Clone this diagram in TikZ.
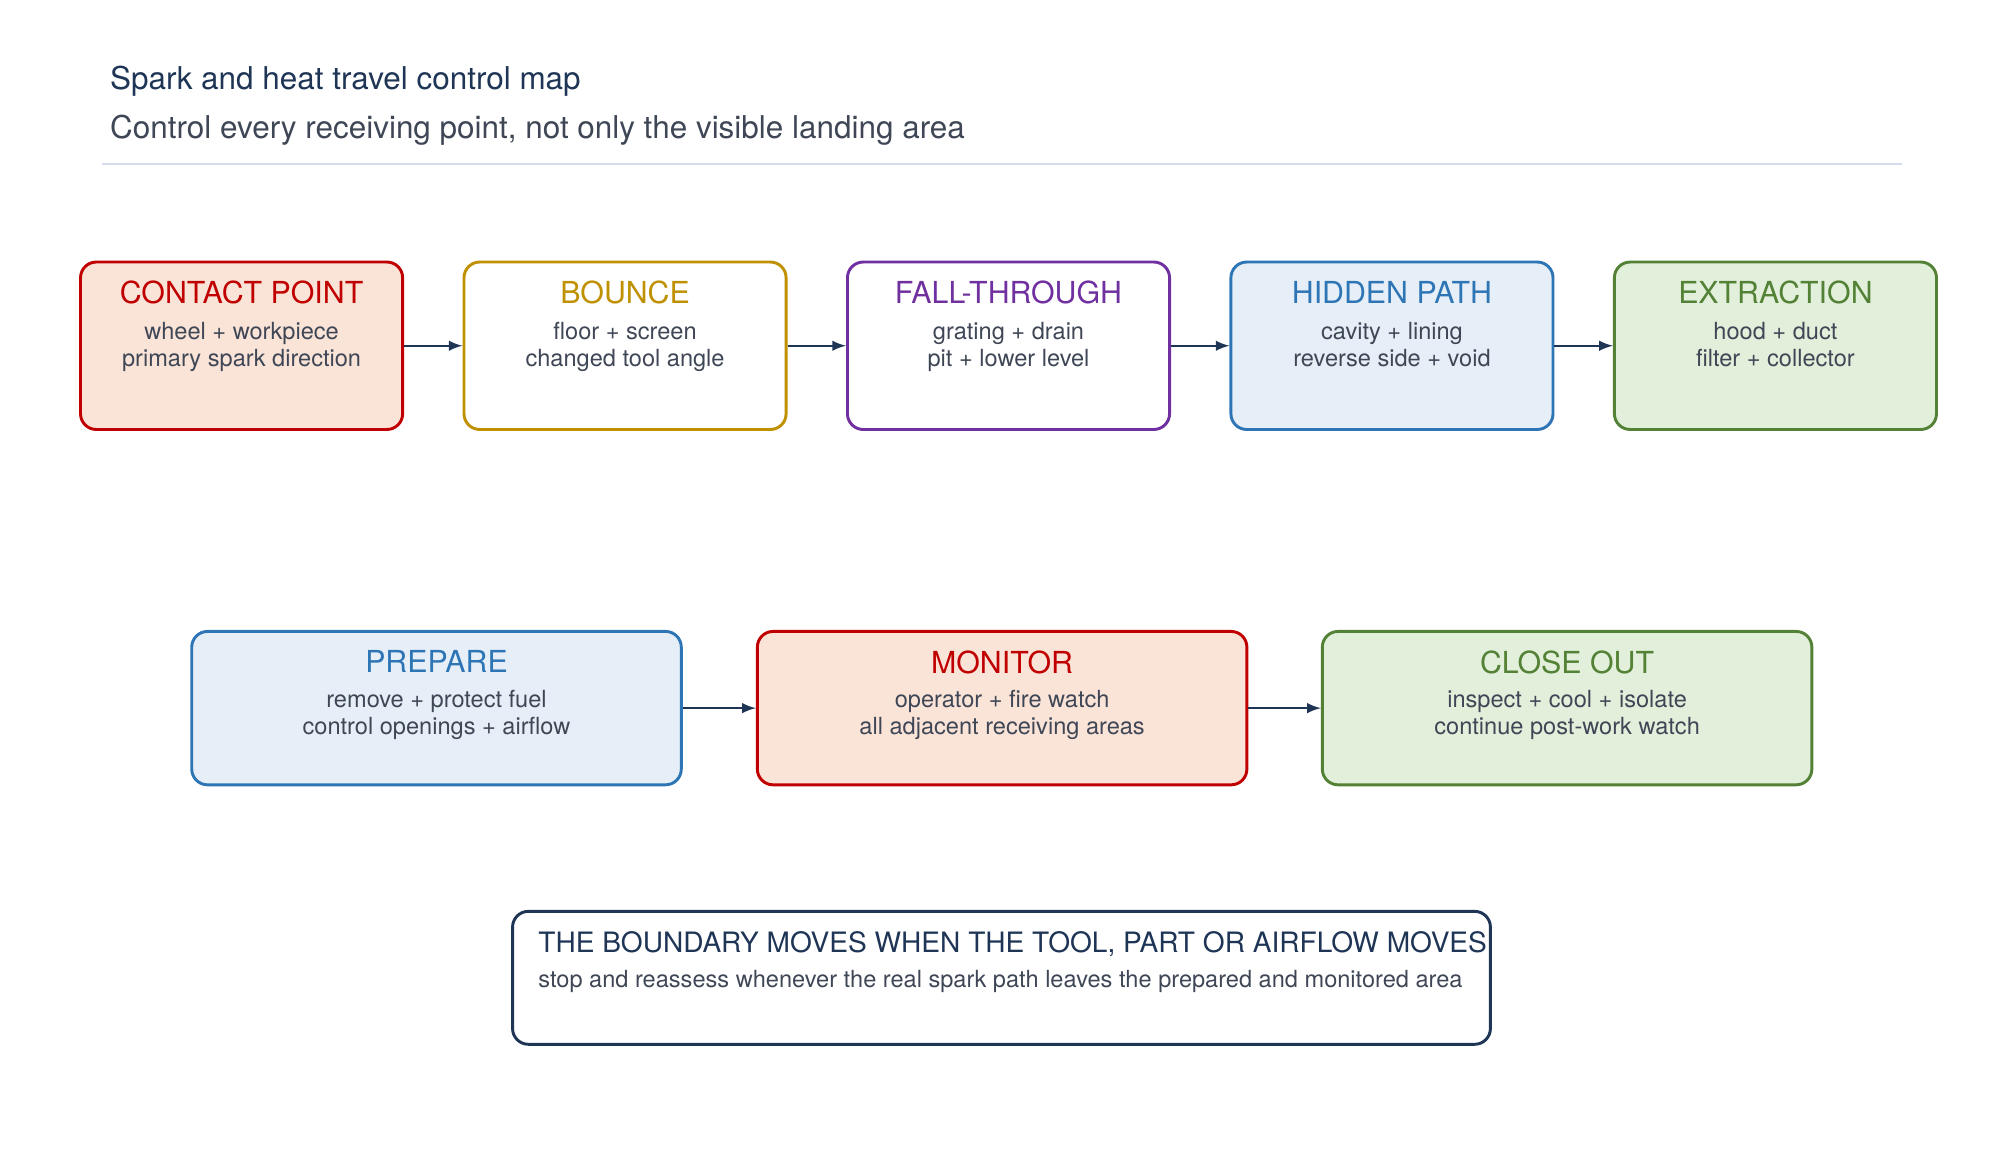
\documentclass[tikz,border=0pt]{standalone}
\usepackage{fontspec}
\setmainfont{TeX Gyre Heros}
\usetikzlibrary{positioning}
\definecolor{navy}{HTML}{1F3556}
\definecolor{textgray}{HTML}{3F4756}
\definecolor{rulecol}{HTML}{D6DCF0}
\definecolor{redc}{HTML}{C00000}
\definecolor{redf}{HTML}{FAE3D7}
\definecolor{goldc}{HTML}{BF9000}
\definecolor{purc}{HTML}{7030A0}
\definecolor{bluec}{HTML}{2E75B6}
\definecolor{bluef}{HTML}{E6EFF7}
\definecolor{grnc}{HTML}{538135}
\definecolor{grnf}{HTML}{E2EFDA}
\tikzset{
  box/.style={draw=#1, line width=1.3pt, rounded corners=7pt, minimum width=5.04cm, minimum height=2.62cm},
  wbox/.style={box=#1, minimum width=7.66cm, minimum height=2.4cm},
  head/.style={text=#1, font=\fontsize{13.5}{16}\selectfont},
  body/.style={text=textgray, align=center, font=\fontsize{10.5}{12}\selectfont},
  flow/.style={-latex, navy, line width=1.1pt}
}
\begin{document}
\begin{tikzpicture}
\useasboundingbox (0,0) rectangle (31.2,-18.16);

\node[anchor=base west, text=navy, font=\fontsize{14}{16}\selectfont] (title) at (1.6,-1.4) {Spark and heat travel control map};
\node[anchor=base west, text=textgray, font=\fontsize{14}{16}\selectfont] (sub) at (1.6,-2.16) {Control every receiving point, not only the visible landing area};
\draw[rulecol, line width=0.8pt] (1.6,-2.56) -- (29.76,-2.56);

% row 1
\node[box=redc, fill=redf] (contact) at (3.78,-5.41) {};
\node[box=goldc, fill=white] (bounce) at (9.78,-5.41) {};
\node[box=purc, fill=white] (fall) at (15.78,-5.41) {};
\node[box=bluec, fill=bluef] (hidden) at (21.78,-5.41) {};
\node[box=grnc, fill=grnf] (extract) at (27.78,-5.41) {};

\node[head=redc, below=0.2cm of contact.north] {CONTACT POINT};
\node[body, below=0.84cm of contact.north] {wheel + workpiece\\primary spark direction};
\node[head=goldc, below=0.2cm of bounce.north] {BOUNCE};
\node[body, below=0.84cm of bounce.north] {floor + screen\\changed tool angle};
\node[head=purc, below=0.2cm of fall.north] {FALL-THROUGH};
\node[body, below=0.84cm of fall.north] {grating + drain\\pit + lower level};
\node[head=bluec, below=0.2cm of hidden.north] {HIDDEN PATH};
\node[body, below=0.84cm of hidden.north] {cavity + lining\\reverse side + void};
\node[head=grnc, below=0.2cm of extract.north] {EXTRACTION};
\node[body, below=0.84cm of extract.north] {hood + duct\\filter + collector};

\draw[flow] (contact) -- (bounce);
\draw[flow] (bounce) -- (fall);
\draw[flow] (fall) -- (hidden);
\draw[flow] (hidden) -- (extract);

% row 2
\node[wbox=bluec, fill=bluef] (prepare) at (6.83,-11.08) {};
\node[wbox=redc, fill=redf] (monitor) at (15.68,-11.08) {};
\node[wbox=grnc, fill=grnf] (close) at (24.52,-11.08) {};

\node[head=bluec, below=0.2cm of prepare.north] {PREPARE};
\node[body, below=0.82cm of prepare.north] {remove + protect fuel\\control openings + airflow};
\node[head=redc, below=0.2cm of monitor.north] {MONITOR};
\node[body, below=0.82cm of monitor.north] {operator + fire watch\\all adjacent receiving areas};
\node[head=grnc, below=0.2cm of close.north] {CLOSE OUT};
\node[body, below=0.82cm of close.north] {inspect + cool + isolate\\continue post-work watch};

\draw[flow] (prepare) -- (monitor);
\draw[flow] (monitor) -- (close);

% boundary note
\node[draw=navy, line width=1.3pt, rounded corners=7pt, minimum width=15.3cm, minimum height=2.08cm] (note) at (15.67,-15.3) {};
\node[anchor=base west, text=navy, font=\fontsize{12.5}{15}\selectfont] (notehead) at (8.3,-14.9) {THE BOUNDARY MOVES WHEN THE TOOL, PART OR AIRFLOW MOVES};
\node[anchor=base west, text=textgray, font=\fontsize{10.5}{12}\selectfont] (notebody) at (8.3,-15.45) {stop and reassess whenever the real spark path leaves the prepared and monitored area};
\end{tikzpicture}
\end{document}
